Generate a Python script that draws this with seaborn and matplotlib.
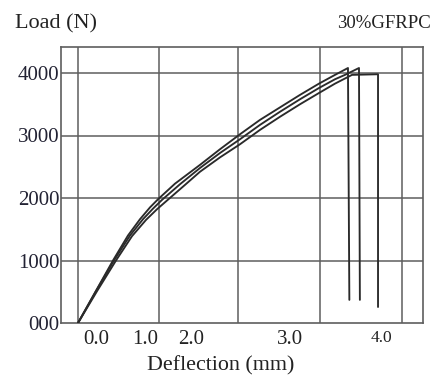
import numpy as np
import pandas as pd
import matplotlib
matplotlib.use("Agg")
import matplotlib.pyplot as plt
import seaborn as sns

# ---- data ----
a_x = [0.0, 0.222, 0.432, 0.617, 0.765, 0.889, 0.988, 1.198, 1.506, 1.753, 2.0,
       2.247, 2.494, 2.741, 2.975, 3.173, 3.333, 3.35]
a_y = [0, 515, 1000, 1400, 1660, 1850, 1980, 2230, 2530, 2780, 3020,
       3250, 3450, 3650, 3830, 3970, 4080, 370]
b_x = [0.0, 0.222, 0.444, 0.642, 0.802, 0.926, 1.037, 1.259, 1.506, 1.753, 2.0,
       2.247, 2.494, 2.741, 2.975, 3.173, 3.296, 3.469, 3.48]
b_y = [0, 510, 1000, 1400, 1660, 1830, 1970, 2220, 2480, 2720, 2940,
       3170, 3380, 3580, 3760, 3900, 3970, 4080, 370]
c_x = [0.0, 0.235, 0.469, 0.667, 0.840, 0.975, 1.099, 1.321, 1.506, 1.753, 2.0,
       2.247, 2.494, 2.741, 2.975, 3.173, 3.383, 3.704, 3.704]
c_y = [0, 510, 1000, 1390, 1650, 1820, 1960, 2210, 2420, 2650, 2860,
       3090, 3300, 3500, 3680, 3830, 3970, 3980, 256]

grid_x = [0.0, 1.0, 1.97, 2.99, 4.0]
y_ticks = [0, 1000, 2000, 3000, 4000]
y_labels = ["000", "1000", "2000", "3000", "4000"]
x_tick_pos = [0.22, 0.83, 1.40, 2.62, 3.75]
x_labels = ["0.0", "1.0", "2.0", "3.0", "4.0"]

frames = []
for name, xs, ys in [("A", a_x, a_y), ("B", b_x, b_y), ("C", c_x, c_y)]:
    frames.append(pd.DataFrame({"x": xs, "y": ys, "curve": name}))
df = pd.concat(frames, ignore_index=True)

sns.set_style("white")
plt.rcParams["font.family"] = ["Liberation Serif", "DejaVu Serif"]

fig = plt.figure(figsize=(4.30, 3.81), dpi=100)
ax = fig.add_axes([61/430, (381-323)/381, (423-61)/430, (323-46.5)/381])

gc = "#5e5e5e"
for gx in grid_x:
    ax.axvline(gx, color=gc, lw=1.1, zorder=1)
for gy in y_ticks[1:]:
    ax.axhline(gy, color=gc, lw=1.1, zorder=1)

sns.lineplot(data=df, x="x", y="y", hue="curve", units="curve", estimator=None,
             sort=False, palette=["#2a2a2a"] * 3, linewidth=1.35, legend=False,
             ax=ax, zorder=3)

ax.set_xlim((61-78)/81, (423-78)/81)
ax.set_ylim(0, (323-46.5)*16)

for s in ax.spines.values():
    s.set_visible(True)
    s.set_color(gc)
    s.set_linewidth(1.2)

ax.set_yticks(y_ticks)
ax.set_yticklabels(y_labels, fontsize=15, color="#222233")
ax.set_xticks(x_tick_pos)
ax.set_xticklabels(x_labels, fontsize=15, color="#222222")
ax.get_xticklabels()[-1].set_fontsize(12.5)
ax.tick_params(axis="both", length=0)
ax.tick_params(axis="y", pad=1)
ax.tick_params(axis="x", pad=5)
ax.set_xlabel("")
ax.set_ylabel("")

fig.text(221/430, 1 - 366/381, "Deflection (mm)", ha="center", va="center",
         fontsize=15.8, color="#222222")
fig.text(15/430, 1 - 24/381, "Load (N)", ha="left", va="center",
         fontsize=16, color="#222222")
fig.text(431/430, 1 - 24/381, "30%GFRPC", ha="right", va="center",
         fontsize=13.5, color="#222222")

fig.savefig("out.png", dpi=100)
